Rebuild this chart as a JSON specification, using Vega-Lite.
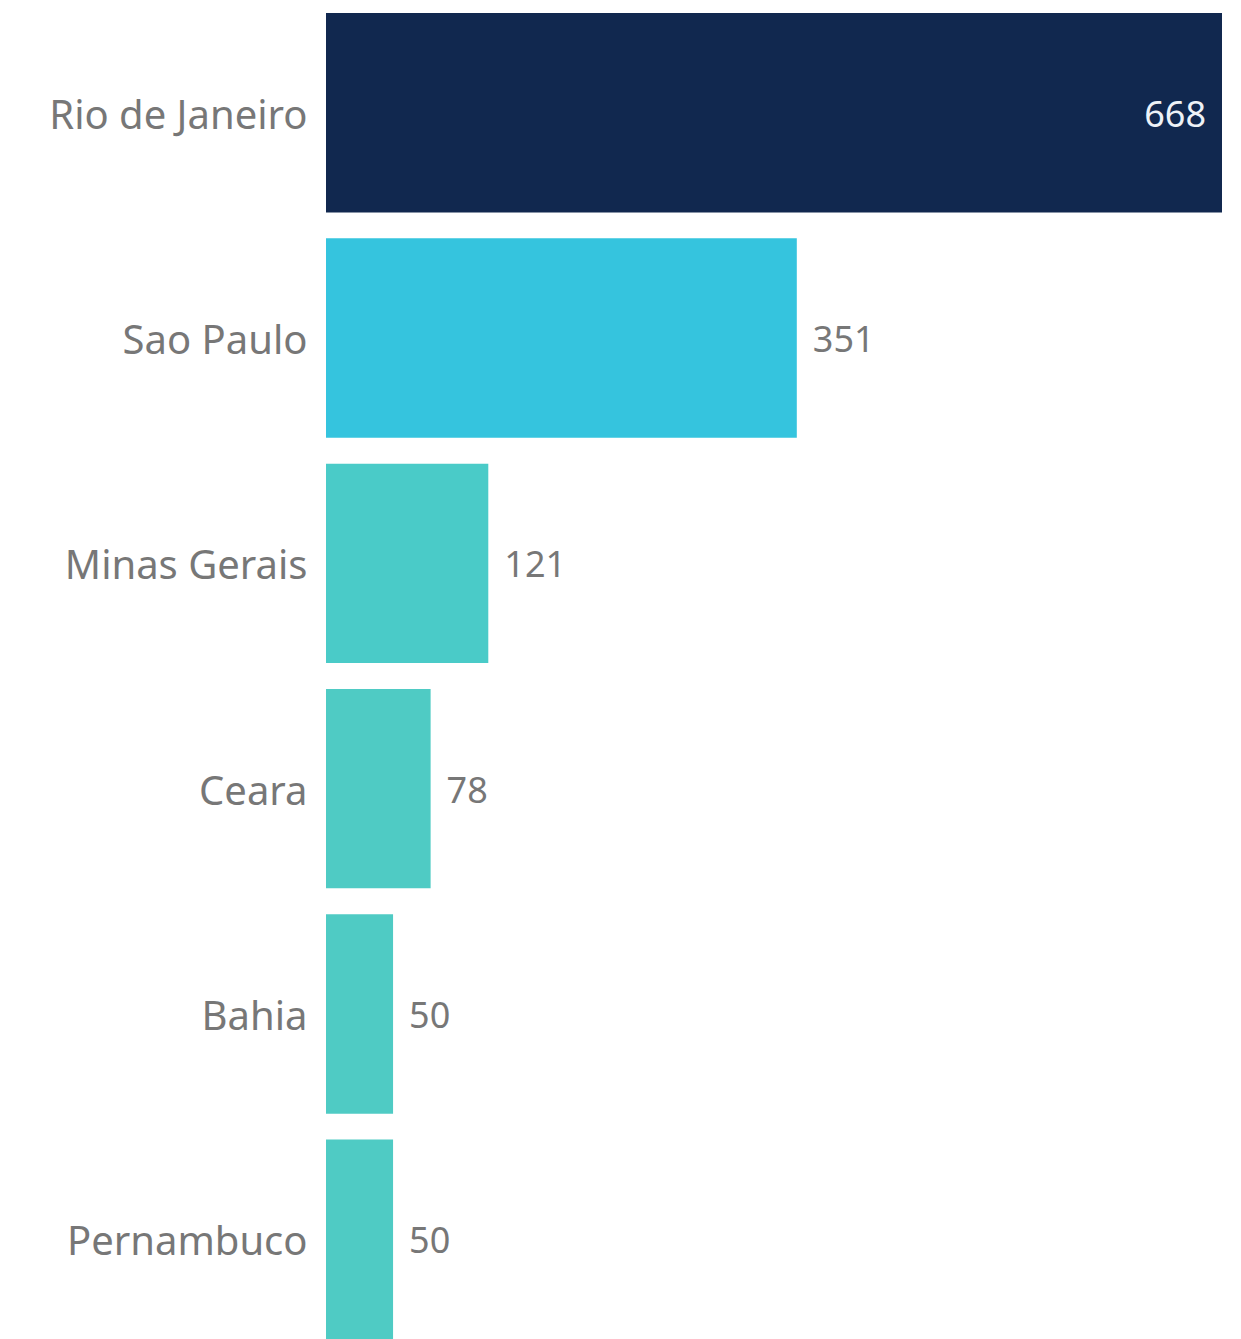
{
  "$schema": "https://vega.github.io/schema/vega-lite/v6.json",
  "autosize": {"type": "none"},
  "padding": {"left": 326, "top": 0, "right": 19, "bottom": 0},
  "width": 896,
  "height": 1339,
  "background": "white",
  "config": {"view": {"stroke": null}, "font": "Noto Sans"},
  "data": {"values": [
    {"state": "Rio de Janeiro", "count": 668},
    {"state": "Sao Paulo", "count": 351},
    {"state": "Minas Gerais", "count": 121},
    {"state": "Ceara", "count": 78},
    {"state": "Bahia", "count": 50},
    {"state": "Pernambuco", "count": 50}
  ]},
  "encoding": {
    "y": {
      "field": "state", "type": "nominal", "sort": null,
      "scale": {"paddingInner": 0.115, "paddingOuter": 0.0289, "align": 1},
      "axis": {"title": null, "ticks": false, "domain": false, "labelPadding": 19,
               "labelFontSize": 40, "labelColor": "#777777", "labelFont": "Noto Sans",
               "labelLimit": 400, "labelOffset": 4}
    },
    "x": {
      "field": "count", "type": "quantitative",
      "scale": {"domain": [0, 668], "nice": false},
      "axis": null
    }
  },
  "layer": [
    {
      "mark": {"type": "bar"},
      "encoding": {
        "color": {
          "field": "state", "type": "nominal", "legend": null,
          "scale": {
            "domain": ["Rio de Janeiro", "Sao Paulo", "Minas Gerais", "Ceara", "Bahia", "Pernambuco"],
            "range": ["#11284F", "#35C4DE", "#4ACBC8", "#4FCBC4", "#4FCBC4", "#4FCBC4"]
          }
        }
      }
    },
    {
      "transform": [{"filter": "datum.count < 600"}],
      "mark": {"type": "text", "align": "left", "baseline": "middle", "dx": 16, "dy": 3, "fontSize": 36, "color": "#777777", "font": "Noto Sans"},
      "encoding": {"text": {"field": "count", "type": "quantitative"}}
    },
    {
      "transform": [{"filter": "datum.count >= 600"}],
      "mark": {"type": "text", "align": "right", "baseline": "middle", "dx": -16, "dy": 3, "fontSize": 36, "color": "#EEF2F7", "font": "Noto Sans"},
      "encoding": {"text": {"field": "count", "type": "quantitative"}}
    }
  ]
}
